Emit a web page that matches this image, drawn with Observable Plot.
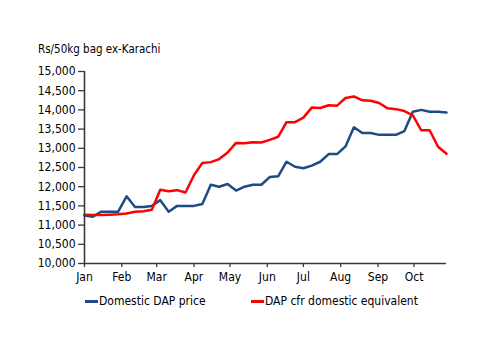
<!DOCTYPE html>
<html>
<head>
<meta charset="utf-8">
<script src="https://cdn.jsdelivr.net/npm/d3@7"></script>
<script src="https://cdn.jsdelivr.net/npm/@observablehq/plot@0.6"></script>
<style>
  html, body { margin: 0; padding: 0; background: #fff; }
  body { width: 500px; height: 353px; overflow: hidden; font-family: "DejaVu Sans Condensed", "Liberation Sans", sans-serif; color: #000; }
  #title { height: 62px; box-sizing: border-box; padding: 42px 0 0 38px; font-size: 11.5px; line-height: 14px; }
  #legend { position: relative; height: 14px; font-size: 12px; line-height: 14px; }
  .item { position: absolute; top: 0; display: flex; align-items: center; }
  .sw { width: 13px; height: 3px; display: inline-block; margin-right: 1px; }
  svg { display: block; }
</style>
</head>
<body>
<div id="title">Rs/50kg bag ex-Karachi</div>
<div id="chart"></div>
<div id="legend"></div>
<script>
const dates = [
  "2008-01-01","2008-01-08","2008-01-15","2008-01-22","2008-01-29",
  "2008-02-05","2008-02-12","2008-02-19","2008-02-26",
  "2008-03-04","2008-03-11","2008-03-18","2008-03-25",
  "2008-04-01","2008-04-08","2008-04-15","2008-04-22","2008-04-29",
  "2008-05-06","2008-05-13","2008-05-20","2008-05-27",
  "2008-06-03","2008-06-10","2008-06-17","2008-06-24",
  "2008-07-01","2008-07-08","2008-07-15","2008-07-22","2008-07-29",
  "2008-08-05","2008-08-12","2008-08-19","2008-08-26",
  "2008-09-02","2008-09-09","2008-09-16","2008-09-23","2008-09-30",
  "2008-10-07","2008-10-14","2008-10-21","2008-10-28"
];
const domesticDAP = [
  11250, 11220, 11350, 11350, 11350, 11750, 11470, 11470, 11500, 11650,
  11350, 11500, 11500, 11500, 11550, 12050, 12000, 12070, 11900, 12000,
  12050, 12050, 12250, 12270, 12650, 12520, 12480, 12550, 12650, 12850,
  12850, 13050, 13550, 13400, 13400, 13350, 13350, 13350, 13450, 13950,
  14000, 13950, 13950, 13930
];
const cfrEquivalent = [
  11270, 11260, 11260, 11270, 11280, 11300, 11350, 11360, 11400, 11920,
  11880, 11910, 11850, 12300, 12620, 12640, 12720, 12890, 13140, 13130,
  13160, 13150, 13220, 13300, 13680, 13680, 13800, 14060, 14050, 14120,
  14110, 14310, 14350, 14250, 14240, 14180, 14040, 14020, 13970, 13860,
  13470, 13470, 13040, 12860
];
const seriesNames = ["Domestic DAP price", "DAP cfr domestic equivalent"];
const seriesColors = ["#1f4b85", "#ff0000"];
const monthTicks = ["2008-01-01","2008-02-01","2008-03-01","2008-04-01","2008-05-01","2008-06-01","2008-07-01","2008-08-01","2008-09-01","2008-10-01"];
const yTicks = [10000, 10500, 11000, 11500, 12000, 12500, 13000, 13500, 14000, 14500, 15000];

const parse = d3.utcParse("%Y-%m-%d");
const rows = [];
dates.forEach((d, i) => {
  rows.push({date: parse(d), value: domesticDAP[i], series: seriesNames[0]});
  rows.push({date: parse(d), value: cfrEquivalent[i], series: seriesNames[1]});
});
const xDomain = [parse(dates[0]), parse(dates[dates.length - 1])];
const axisColor = "#3a3a3a";

const chart = Plot.plot({
  width: 500,
  height: 232,
  marginLeft: 84,
  marginRight: 54,
  marginTop: 9,
  marginBottom: 31,
  style: {fontFamily: '"DejaVu Sans Condensed", "Liberation Sans", sans-serif', fontSize: "12px", color: "#000", background: "#fff"},
  x: {type: "utc", domain: xDomain},
  y: {domain: [10000, 15000]},
  color: {domain: seriesNames, range: seriesColors},
  marks: [
    Plot.axisX({ticks: monthTicks.map(parse), tickFormat: d3.utcFormat("%b"), tickSize: 4, tickPadding: 5, stroke: axisColor, strokeWidth: 1.3, fill: "#000", fontSize: 12, label: null}),
    Plot.axisY({ticks: yTicks, tickFormat: d3.format(","), tickSize: 6, tickPadding: 3, stroke: axisColor, strokeWidth: 1.3, fill: "#000", fontSize: 12, label: null}),
    Plot.line(rows, {x: "date", y: "value", z: "series", stroke: "series", strokeWidth: 2.5, strokeLinejoin: "round"}),
    Plot.ruleY([10000], {stroke: axisColor, strokeWidth: 1.6}),
    Plot.ruleX([xDomain[0]], {stroke: axisColor, strokeWidth: 1.6})
  ]
});
document.getElementById("chart").appendChild(chart);

const legend = document.getElementById("legend");
const legendLeft = [85, 251];
seriesNames.forEach((name, i) => {
  const it = document.createElement("div");
  it.className = "item";
  it.style.left = legendLeft[i] + "px";
  const sw = document.createElement("span");
  sw.className = "sw";
  sw.style.background = seriesColors[i];
  it.appendChild(sw);
  it.appendChild(document.createTextNode(name));
  legend.appendChild(it);
});
</script>
</body>
</html>
